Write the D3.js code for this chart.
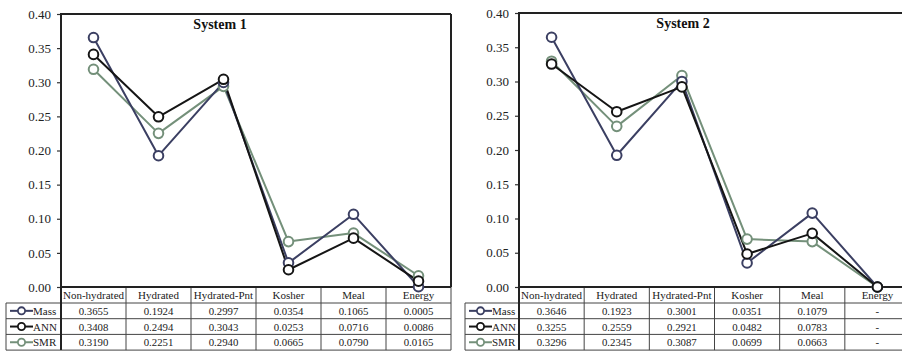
<!DOCTYPE html>
<html>
<head>
<meta charset="utf-8">
<script src="https://cdn.jsdelivr.net/npm/d3@7"></script>
<style>
  html, body { margin: 0; padding: 0; background: #fff; }
  svg { display: block; }
  svg text { font-family: 'Liberation Serif', 'Times New Roman', serif; }
</style>
</head>
<body>
<svg id="chart" width="902" height="356"></svg>
<script>
// Categories along the x axis (shared by both systems)
const categories = ["Non-hydrated", "Hydrated", "Hydrated-Pnt", "Kosher", "Meal", "Energy"];

// Series names
const seriesNames = ["Mass", "ANN", "SMR"];

// System 1 values
const sys1Mass = [0.3655, 0.1924, 0.2997, 0.0354, 0.1065, 0.0005];
const sys1ANN  = [0.3408, 0.2494, 0.3043, 0.0253, 0.0716, 0.0086];
const sys1SMR  = [0.3190, 0.2251, 0.2940, 0.0665, 0.0790, 0.0165];

// System 2 values (Energy has no reported value; plotted at zero, shown as "-")
const sys2Mass = [0.3646, 0.1923, 0.3001, 0.0351, 0.1079, 0];
const sys2ANN  = [0.3255, 0.2559, 0.2921, 0.0482, 0.0783, 0];
const sys2SMR  = [0.3296, 0.2345, 0.3087, 0.0699, 0.0663, 0];
const sys2Missing = [false, false, false, false, false, true];

// Y axis tick values
const yTicks = [0, 0.05, 0.10, 0.15, 0.20, 0.25, 0.30, 0.35, 0.40];

const seriesColor = { Mass: "#3b3f62", ANN: "#151515", SMR: "#74907a" };
const FONT = "'Liberation Serif', 'Times New Roman', serif";

const svg = d3.select("#chart");

function drawPanel(cfg) {
  const g = svg.append("g");
  const x = d3.scaleBand().domain(categories).range([cfg.left, cfg.right]);
  const y = d3.scaleLinear().domain([0, 0.4]).range([cfg.bottom, cfg.top]);
  const cx = c => x(c) + x.bandwidth() / 2;

  // y axis ticks and labels
  const axis = g.append("g")
    .attr("transform", `translate(${cfg.left},0)`)
    .call(d3.axisLeft(y).tickValues(yTicks).tickSize(4).tickPadding(6).tickFormat(d3.format(".2f")));
  axis.select(".domain").remove();
  axis.selectAll(".tick line").attr("stroke", "#333").attr("stroke-width", 1.2);
  axis.selectAll(".tick text")
    .style("font-family", FONT)
    .style("font-size", "13px")
    .attr("fill", "#222");

  // table geometry
  const headerH = 16, rowH = 15.7;
  const headerBottom = cfg.bottom + headerH;
  const rowBottoms = seriesNames.map((_, i) => headerBottom + rowH * (i + 1));
  const tableBottom = rowBottoms[rowBottoms.length - 1];

  const tbl = g.append("g").attr("stroke", "#444").attr("stroke-width", 1).attr("fill", "none");
  // column separators
  categories.forEach((c, i) => {
    if (i > 0) tbl.append("line").attr("x1", x(c)).attr("x2", x(c)).attr("y1", cfg.bottom).attr("y2", tableBottom);
  });
  tbl.append("line").attr("x1", cfg.right).attr("x2", cfg.right).attr("y1", cfg.bottom).attr("y2", tableBottom);
  // legend column border
  tbl.append("line").attr("x1", cfg.legendLeft).attr("x2", cfg.legendLeft).attr("y1", headerBottom).attr("y2", tableBottom);
  // horizontal row lines
  tbl.append("line").attr("x1", cfg.legendLeft).attr("x2", cfg.right).attr("y1", headerBottom).attr("y2", headerBottom);
  rowBottoms.forEach(yy => {
    tbl.append("line").attr("x1", cfg.legendLeft).attr("x2", cfg.right).attr("y1", yy).attr("y2", yy);
  });

  // plot frame (left, top, right, and axis baseline)
  const frame = g.append("g").attr("stroke", "#222").attr("stroke-width", 2).attr("fill", "none");
  frame.append("line").attr("x1", cfg.left).attr("x2", cfg.left).attr("y1", cfg.top).attr("y2", tableBottom);
  frame.append("line").attr("x1", cfg.left - 1).attr("x2", cfg.right).attr("y1", cfg.top).attr("y2", cfg.top);
  frame.append("line").attr("x1", cfg.right).attr("x2", cfg.right).attr("y1", cfg.top).attr("y2", cfg.bottom);
  frame.append("line").attr("x1", cfg.left).attr("x2", cfg.right).attr("y1", cfg.bottom).attr("y2", cfg.bottom);

  // header labels
  g.append("g").selectAll("text").data(categories).join("text")
    .attr("x", d => cx(d))
    .attr("y", cfg.bottom + headerH / 2 + 4)
    .attr("text-anchor", "middle")
    .style("font-family", FONT)
    .style("font-size", "11px")
    .attr("fill", "#222")
    .text(d => d);

  // title
  g.append("text")
    .attr("x", cfg.titleX)
    .attr("y", cfg.top + 15)
    .attr("text-anchor", "middle")
    .style("font-family", FONT)
    .style("font-size", "14px")
    .style("font-weight", "bold")
    .attr("fill", "#111")
    .text(cfg.title);

  const line = d3.line().x((d, i) => cx(categories[i])).y(d => y(d));

  // series lines and open circle markers
  const order = ["SMR", "Mass", "ANN"];
  order.forEach(name => {
    g.append("path")
      .datum(cfg.series[name])
      .attr("d", line)
      .attr("fill", "none")
      .attr("stroke", seriesColor[name])
      .attr("stroke-width", 2)
      .attr("stroke-linejoin", "round");
  });
  order.forEach(name => {
    g.append("g").selectAll("circle").data(cfg.series[name]).join("circle")
      .attr("cx", (d, i) => cx(categories[i]))
      .attr("cy", d => y(d))
      .attr("r", 4.8)
      .attr("fill", "#fff")
      .attr("stroke", seriesColor[name])
      .attr("stroke-width", 2);
  });

  // table rows: legend key + values
  seriesNames.forEach((name, r) => {
    const rowMid = headerBottom + rowH * r + rowH / 2;
    const lx = cfg.legendLeft;
    g.append("line")
      .attr("x1", lx + 4).attr("x2", lx + 27)
      .attr("y1", rowMid).attr("y2", rowMid)
      .attr("stroke", seriesColor[name]).attr("stroke-width", 2);
    g.append("circle")
      .attr("cx", lx + 15.5).attr("cy", rowMid).attr("r", 3.6)
      .attr("fill", "#fff").attr("stroke", seriesColor[name]).attr("stroke-width", 1.8);
    g.append("text")
      .attr("x", lx + 27).attr("y", rowMid + 4)
      .style("font-family", FONT)
      .style("font-size", "11px")
      .attr("fill", "#222")
      .text(name);
    g.append("g").selectAll("text").data(cfg.series[name]).join("text")
      .attr("x", (d, i) => cx(categories[i]))
      .attr("y", rowMid + 4)
      .attr("text-anchor", "middle")
      .style("font-family", FONT)
      .style("font-size", "10.8px")
      .attr("fill", "#222")
      .text((d, i) => cfg.missing && cfg.missing[i] ? "-" : d.toFixed(4));
  });
}

drawPanel({
  title: "System 1", titleX: 220,
  left: 61, right: 451, top: 14, bottom: 287, legendLeft: 6,
  series: { Mass: sys1Mass, ANN: sys1ANN, SMR: sys1SMR }
});

drawPanel({
  title: "System 2", titleX: 683,
  left: 519, right: 910, top: 13, bottom: 287, legendLeft: 465,
  series: { Mass: sys2Mass, ANN: sys2ANN, SMR: sys2SMR },
  missing: sys2Missing
});
</script>
</body>
</html>
